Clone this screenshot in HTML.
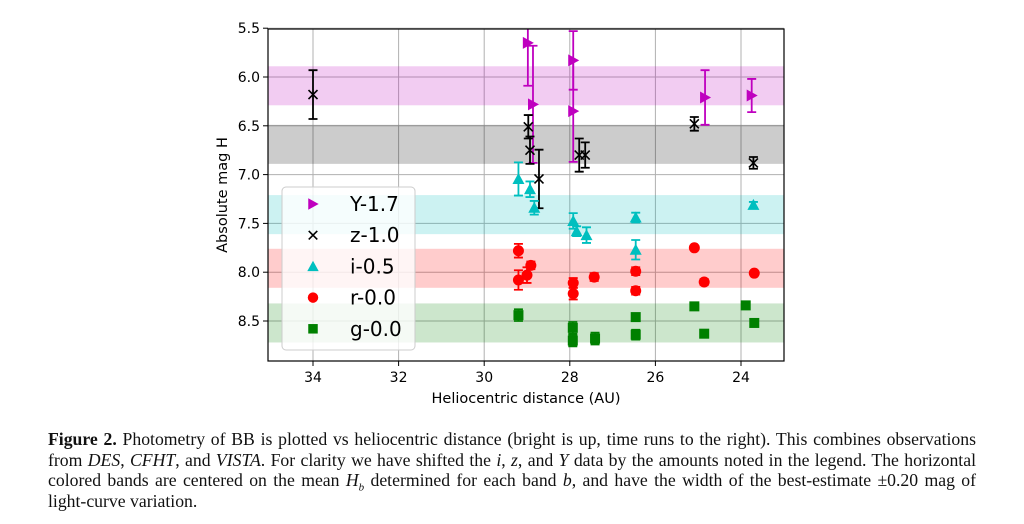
<!DOCTYPE html>
<html><head><meta charset="utf-8"><style>
body{margin:0;background:#fff;width:1024px;height:524px;overflow:hidden;position:relative}
#cap{position:absolute;left:48px;top:429px;width:928px;font-family:"Liberation Serif",serif;font-size:17.7px;line-height:20.6px;text-align:justify;color:#111}
</style></head><body>
<svg id="chart" width="1024" height="425" style="position:absolute;left:0;top:0;font-family:'DejaVu Sans','Liberation Sans',sans-serif"></svg>
<div id="cap"><b>Figure 2.</b> Photometry of BB is plotted vs heliocentric distance (bright is up, time runs to the right). This combines observations from <i>DES</i>, <i>CFHT</i>, and <i>VISTA</i>. For clarity we have shifted the <i>i</i>, <i>z</i>, and <i>Y</i> data by the amounts noted in the legend. The horizontal colored bands are centered on the mean <i>H<sub style="font-size:11px;line-height:0">b</sub></i> determined for each band <i>b</i>, and have the width of the best-estimate ±0.20 mag of light-curve variation.</div>
<script>
const xTicks=[34,32,30,28,26,24];
const yTicks=[5.5,6.0,6.5,7.0,7.5,8.0,8.5];
const bandNames=["Y-1.7","z-1.0","i-0.5","r-0.0","g-0.0"];
const bandMeans=[6.09,6.69,7.41,7.96,8.52];
const Yd=[28.98,28.86,27.92,27.92,24.84,23.75];
const YH=[5.65,6.28,5.83,6.35,6.21,6.19];
const Ye=[0.44,0.6,0.3,0.52,0.28,0.17];
const zd=[34.0,28.97,28.93,28.72,27.78,27.64,25.09,23.71];
const zH=[6.18,6.51,6.75,7.045,6.80,6.80,6.48,6.88];
const ze=[0.25,0.12,0.14,0.3,0.17,0.13,0.07,0.06];
const id=[29.2,28.93,28.83,27.92,27.84,27.61,26.46,26.46,23.71];
const iH=[7.045,7.15,7.34,7.475,7.58,7.62,7.44,7.77,7.31];
const ie=[0.17,0.08,0.07,0.08,0.05,0.08,0.05,0.1,0.03];
const rd=[29.2,29.2,29.0,28.91,27.92,27.92,27.43,26.46,26.46,25.09,24.86,23.69];
const rH=[7.78,8.08,8.03,7.93,8.11,8.22,8.05,7.99,8.19,7.75,8.10,8.01];
const re=[0.07,0.1,0.08,0.04,0.05,0.06,0.04,0.04,0.04,0.02,0.03,0.02];
const gd=[29.2,27.93,27.93,27.41,26.46,26.46,25.09,24.86,23.89,23.69];
const gH=[8.44,8.57,8.70,8.68,8.46,8.64,8.35,8.63,8.34,8.52];
const ge=[0.06,0.06,0.06,0.06,0.03,0.05,0.02,0.03,0.02,0.02];

const L=268,R=784,T=29,B=361;
const X=d=>313+(34-d)*42.8;
const Y=h=>77+(h-6)*97.6;
const svg=document.getElementById('chart');
const NS='http://www.w3.org/2000/svg';
function mk(tag,at,parent){const e=document.createElementNS(NS,tag);for(const k in at)e.setAttribute(k,at[k]);(parent||svg).appendChild(e);return e;}
const colors=['#bf00bf','#000','#00bfbf','#ff0000','#008000'];
const bandFill=['rgba(191,0,191,0.2)','rgba(0,0,0,0.2)','rgba(0,191,191,0.2)','rgba(255,0,0,0.2)','rgba(0,128,0,0.2)'];
const clip=mk('clipPath',{id:'pc'});mk('rect',{x:L,y:T,width:R-L,height:B-T},clip);
xTicks.forEach(t=>{const l=mk('line',{x1:X(t),x2:X(t),y1:T,y2:B,stroke:'#b0b0b0','stroke-width':1});
});
yTicks.forEach(t=>{const l=mk('line',{x1:L,x2:R,y1:Y(t),y2:Y(t),stroke:'#b0b0b0','stroke-width':1});
});
bandMeans.forEach((m,i)=>{const r=mk('rect',{x:L,y:Y(m-0.2),width:R-L,height:Y(m+0.2)-Y(m-0.2),fill:bandFill[i]});
});
const g=mk('g',{'clip-path':'url(#pc)'});
function marker(type,cx,cy,c,parent,s){s=s||1;let e;
 if(type==='tri-r')e=mk('polygon',{points:`${cx-5*s},${cy-6*s} ${cx+6*s},${cy} ${cx-5*s},${cy+6*s}`,fill:c},parent);
 else if(type==='x'){e=mk('path',{d:`M${cx-4.5*s},${cy-4.5*s}L${cx+4.5*s},${cy+4.5*s}M${cx+4.5*s},${cy-4.5*s}L${cx-4.5*s},${cy+4.5*s}`,stroke:c,'stroke-width':1.6,fill:'none'},parent);}
 else if(type==='tri-u')e=mk('polygon',{points:`${cx},${cy-6*s} ${cx+6*s},${cy+5*s} ${cx-6*s},${cy+5*s}`,fill:c},parent);
 else if(type==='o')e=mk('circle',{cx:cx,cy:cy,r:5.5*s,fill:c},parent);
 else e=mk('rect',{x:cx-5*s,y:cy-5*s,width:10*s,height:10*s,fill:c},parent);
 return e;}
const series=[[Yd,YH,Ye,'tri-r'],[zd,zH,ze,'x'],[id,iH,ie,'tri-u'],[rd,rH,re,'o'],[gd,gH,ge,'s']];
series.forEach((s,si)=>{const [ds,hs,es,mt]=s;const c=colors[si];
 ds.forEach((d,k)=>{const cx=X(d),cy=Y(hs[k]),y1=Y(hs[k]-es[k]),y2=Y(hs[k]+es[k]);
  const eb=mk('path',{d:`M${cx},${y1}V${y2}M${cx-4.5},${y1}H${cx+4.5}M${cx-4.5},${y2}H${cx+4.5}`,stroke:c,'stroke-width':1.8,fill:'none'},g);
  
  const m=marker(mt,cx,cy,c,g);
  });});
const fr=mk('rect',{x:L,y:T,width:R-L,height:B-T,fill:'none',stroke:'#000','stroke-width':1.2});

xTicks.forEach(t=>{mk('line',{x1:X(t),x2:X(t),y1:B,y2:B+5,stroke:'#000'});
 const tx=mk('text',{x:X(t),y:B+21,'text-anchor':'middle','font-size':14});tx.textContent=t;
 });
yTicks.forEach(t=>{mk('line',{x1:L-5,x2:L,y1:Y(t),y2:Y(t),stroke:'#000'});
 const tx=mk('text',{x:L-8,y:Y(t)+5,'text-anchor':'end','font-size':14});tx.textContent=t.toFixed(1);
 });
const xt=mk('text',{x:526,y:403,'text-anchor':'middle','font-size':14.5});xt.textContent='Heliocentric distance (AU)';

const yt=mk('text',{x:0,y:0,'text-anchor':'middle','font-size':14.5,transform:'translate(227,195) rotate(-90)'});yt.textContent='Absolute mag H';

const lg=mk('g',{});
mk('rect',{x:282,y:187,width:133,height:163,rx:4,fill:'rgba(255,255,255,0.8)',stroke:'#ccc'},lg);
const mts=['tri-r','x','tri-u','o','s'];
bandNames.forEach((n,i)=>{const cy=204+i*31.2;const e=mk('g',{},lg);
 
 marker(mts[i],313,cy,colors[i],e,0.95);
 const t=mk('text',{x:350,y:cy+7,'font-size':20},e);t.textContent=n;});
</script>
</body></html>
